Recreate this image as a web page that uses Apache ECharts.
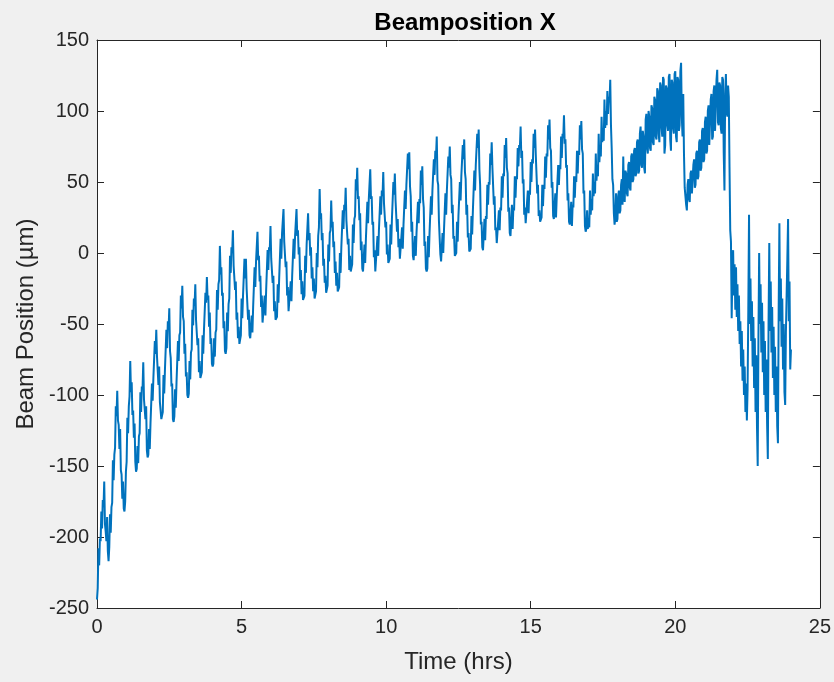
<!DOCTYPE html>
<html>
<head>
<meta charset="utf-8">
<title>Beamposition X</title>
<script src="https://cdn.jsdelivr.net/npm/echarts@6/dist/echarts.min.js"></script>
<style>
  html, body { margin: 0; padding: 0; background: #f0f0f0; }
  #chart { width: 834px; height: 682px; }
</style>
</head>
<body>
<div id="chart"></div>
<script>
// Beam position log: one reading every 0.025 h, starting at t = 0 h.
const SAMPLE_START_HRS = 0;
const SAMPLE_STEP_HRS = 0.025;

// Beam position in µm, one row per hour of the run (40 readings per hour).
const beamPosUm = [
  -244,-236,-208,-220,-201,-203,-182,-194,-174,-179,-161,-191,-196,-203,-186,-210,-217,-207,-184,-197,-179,-176,-146,-160,-142,-137,-108,-115,-97,-118,-121,-138,-124,-153,-156,-173,-161,-180,-182,-175,
  -154,-147,-116,-127,-108,-101,-76,-98,-91,-114,-111,-130,-120,-147,-154,-152,-136,-148,-129,-127,-98,-112,-94,-96,-77,-103,-104,-117,-108,-139,-144,-142,-124,-138,-120,-119,-92,-104,-88,-87,
  -62,-71,-54,-73,-74,-93,-80,-105,-104,-117,-118,-112,-86,-99,-82,-81,-54,-67,-48,-54,-39,-69,-74,-94,-92,-117,-119,-115,-96,-109,-91,-90,-62,-76,-58,-56,-30,-39,-23,-45,
  -48,-71,-64,-87,-84,-100,-102,-99,-76,-89,-70,-68,-40,-51,-32,-37,-22,-47,-48,-65,-60,-84,-76,-88,-88,-84,-58,-71,-54,-53,-28,-35,-17,-33,-30,-52,-42,-64,-60,-78,
  -80,-78,-60,-73,-56,-54,-26,-40,-22,-19,5,-15,-10,-30,-28,-53,-48,-69,-71,-67,-42,-55,-36,-32,-2,-14,4,0,16,-9,-10,-26,-20,-47,-42,-60,-52,-64,-64,-58,
  -32,-46,-30,-30,-4,-18,-4,-25,-26,-47,-40,-58,-60,-59,-44,-56,-38,-37,-10,-24,-6,-5,15,-5,-2,-20,-16,-38,-30,-49,-50,-48,-30,-44,-26,-25,2,-12,4,2,
  19,-4,-4,-21,-16,-41,-34,-47,-48,-45,-22,-35,-18,-17,10,-4,14,13,31,8,8,-10,-6,-30,-24,-41,-42,-41,-20,-34,-16,-16,10,-4,12,12,31,12,16,-1,
  4,-19,-12,-29,-20,-33,-34,-30,-2,-14,6,7,28,9,14,-2,4,-18,-10,-27,-18,-32,-33,-27,0,-10,12,18,45,24,28,9,14,-9,-4,-21,-16,-28,-29,-23,
  6,-6,14,16,37,18,22,4,8,-14,-6,-23,-14,-27,-28,-24,0,-14,4,4,30,17,34,30,46,23,24,6,10,-12,-2,-13,-14,-8,20,7,24,26,52,44,
  60,38,40,23,28,2,8,-11,-13,-12,6,-7,10,10,36,21,38,39,59,38,40,20,22,-3,2,-13,-14,-12,12,-2,16,16,40,27,44,40,57,35,36,18,
  22,-1,6,-7,-7,-4,20,6,24,25,50,41,56,37,36,15,24,4,10,-4,-4,-3,18,3,20,19,44,31,48,47,70,59,71,47,40,15,22,-2,-5,-4,
  12,-2,14,13,36,21,38,35,58,48,61,38,32,5,8,-11,-13,-11,12,-3,14,14,40,27,44,43,66,55,72,68,82,51,48,23,24,-1,-6,-5,14,0,
  16,16,42,27,44,44,68,60,75,55,52,28,34,10,12,-2,-3,0,22,8,26,25,50,37,54,53,76,66,80,57,52,27,34,11,14,1,0,3,26,13,
  30,31,58,44,62,61,84,74,87,59,48,20,22,4,2,3,24,9,26,24,48,34,50,48,70,62,78,60,60,34,40,16,18,7,6,8,30,16,32,30,
  54,39,56,54,76,67,81,60,56,29,32,14,12,13,34,17,32,30,54,39,54,52,74,61,76,74,89,67,72,49,52,27,32,21,20,22,44,28,44,41,
  64,50,66,63,84,74,87,69,68,42,48,26,30,22,22,25,48,33,48,45,68,53,70,68,90,80,94,74,72,46,50,26,24,24,42,25,40,39,62,48,
  62,59,82,67,84,81,97,77,80,60,62,37,42,22,20,21,36,19,34,32,54,39,54,50,72,56,72,69,90,80,93,73,70,42,44,19,15,17,30,17,
  24,18,44,27,38,30,56,40,50,42,70,51,62,54,84,64,76,68,96,78,88,79,108,88,100,90,114,98,110,106,122,90,74,52,48,28,20,25,42,22,
  24,40,44,28,30,48,52,34,68,40,36,58,56,42,40,62,64,46,44,68,70,50,52,72,74,54,56,78,80,56,58,84,89,62,60,86,82,60,56,94,
  98,74,70,100,96,74,72,104,102,78,76,110,108,82,80,116,114,84,78,120,118,88,82,124,122,70,76,118,116,90,86,124,126,80,72,122,120,88,84,126,
  128,82,78,124,122,86,90,128,134,96,82,112,70,46,40,34,30,48,52,38,36,56,58,42,42,62,66,46,48,70,72,52,54,78,80,58,60,86,88,64,
  66,92,96,70,72,100,104,76,76,108,112,80,82,114,118,86,86,122,129,92,90,120,118,88,84,124,122,70,44,112,126,100,96,118,110,60,16,8,-46,-12,
  2,-30,-8,-40,-10,-45,-22,-55,-30,-64,-48,-80,-55,-90,-68,-100,-80,-112,-92,-118,-96,-40,27,-50,-18,-62,-34,-80,-45,-95,-60,-112,-72,-122,-150,-60,0,-50,-22,-70,
  -35,-84,-48,-100,-62,-112,-75,-120,-145,-50,7,-55,-20,-70,-38,-88,-52,-100,-66,-112,-80,-122,-134,-40,21,-48,-18,-66,-32,-82,-50,-98,-107,-56,-30,-4,24,-48,-20,-82,
  -68
];

// Axis ranges and tick spacing
const X_MIN = 0, X_MAX = 25, X_STEP = 5;
const Y_MIN = -250, Y_MAX = 150, Y_STEP = 50;

const TITLE = 'Beamposition X';
const X_NAME = 'Time (hrs)';
const Y_NAME = 'Beam Position (µm)';

// Pair each reading with its sample time
const seriesData = beamPosUm.map((v, i) => [
  +(SAMPLE_START_HRS + i * SAMPLE_STEP_HRS).toFixed(3), v
]);

const FONT = '"Liberation Sans", Arial, Helvetica, sans-serif';
const INK = '#262626';

// Shared look of the four frame axes (inward ticks, no grid lines)
const frameAxis = (extra) => Object.assign({
  axisLine: { show: true, onZero: false, lineStyle: { color: INK, width: 1 } },
  axisTick: { show: true, inside: true, length: 7, lineStyle: { color: INK, width: 1 } },
  splitLine: { show: false },
  axisLabel: { show: false }
}, extra);

const chart = echarts.init(document.getElementById('chart'), null, { renderer: 'canvas' });

chart.setOption({
  animation: false,
  backgroundColor: '#f0f0f0',
  title: {
    text: TITLE,
    left: 460,
    top: 6,
    textAlign: 'center',
    textStyle: { fontFamily: FONT, fontWeight: 'bold', fontSize: 24, color: '#000' }
  },
  grid: {
    left: 97, right: 12, top: 40, bottom: 74,
    show: true, backgroundColor: '#ffffff', borderWidth: 0,
    containLabel: false
  },
  xAxis: [
    frameAxis({
      type: 'value', position: 'bottom', min: X_MIN, max: X_MAX, interval: X_STEP,
      name: X_NAME, nameLocation: 'middle', nameGap: 42,
      nameTextStyle: { fontFamily: FONT, fontSize: 24, color: INK },
      axisLabel: { show: true, fontFamily: FONT, fontSize: 20, color: INK, margin: 9 }
    }),
    frameAxis({
      type: 'value', position: 'top', min: X_MIN, max: X_MAX, interval: X_STEP
    })
  ],
  yAxis: [
    frameAxis({
      type: 'value', position: 'left', min: Y_MIN, max: Y_MAX, interval: Y_STEP,
      name: Y_NAME, nameLocation: 'middle', nameGap: 59,
      nameTextStyle: { fontFamily: FONT, fontSize: 24, color: INK },
      axisLabel: { show: true, fontFamily: FONT, fontSize: 20, color: INK, margin: 8 }
    }),
    frameAxis({
      type: 'value', position: 'right', min: Y_MIN, max: Y_MAX, interval: Y_STEP
    })
  ],
  series: [{
    type: 'line',
    xAxisIndex: 0,
    yAxisIndex: 0,
    data: seriesData,
    showSymbol: false,
    sampling: null,
    clip: true,
    lineStyle: { color: '#0072BD', width: 2 },
    itemStyle: { color: '#0072BD' }
  }]
});
</script>
</body>
</html>
